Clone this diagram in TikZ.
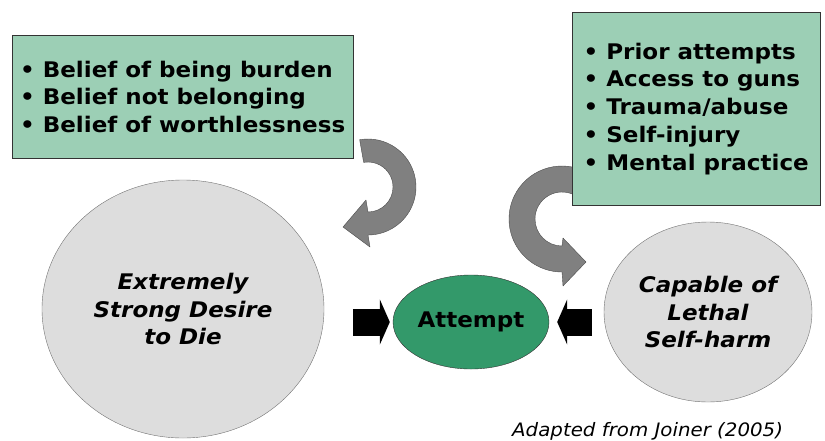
\documentclass[tikz,border=0pt]{standalone}
\usepackage{fontspec}
\setmainfont{DejaVu Sans}[FakeStretch=1.07, ItalicFont=DejaVu Sans Oblique, BoldFont=DejaVu Sans Bold, BoldItalicFont=DejaVu Sans Bold Oblique]
\usepackage{xcolor}
\usepackage{tikz}
\usetikzlibrary{positioning,calc,shapes.geometric,arrows.meta}
\definecolor{boxgreen}{HTML}{9CCFB5}
\definecolor{attemptgreen}{HTML}{33996A}
\definecolor{circlegray}{HTML}{DDDDDD}
\definecolor{curvegray}{HTML}{808080}
\tikzset{
    factbox/.style={draw=black!80, fill=boxgreen, anchor=north west, align=left, inner sep=0pt, font=\bfseries\fontsize{21.5}{27.7}\selectfont},
    bignode/.style={ellipse, draw=black!55, fill=circlegray, align=center, inner sep=0pt, font=\bfseries\itshape\fontsize{21.5}{27.7}\selectfont},
    curvearrow/.style={draw=black!70, fill=curvegray, line join=round}
}

\begin{document}
\begin{tikzpicture}[
        x=1pt, y=-1pt,
        attempt/.style={ellipse, draw=black!80, fill=attemptgreen, inner sep=0pt, minimum width=156pt, minimum height=94pt, font=\bfseries\fontsize{21.5}{24}\selectfont},
        blockarrow/.style={line width=27pt, -{Triangle[length=10pt, width=45pt]}}
    ]
    \useasboundingbox (0,0) rectangle (825,440);
    % --- curved arrows ---
    \filldraw[curvearrow] ([shift={(-100:48)}]368,187) arc[start angle=-100, end angle=90, radius=48]
        -- (370,247) -- (343,227) -- (366,200) -- (368,212)
        arc[start angle=90, end angle=-100, radius=25] -- cycle;
    \filldraw[curvearrow] ([shift={(-65:53)}]562,219) arc[start angle=-65, end angle=-270, radius=53]
        -- (563,286) -- (586,262) -- (563,238) -- (562,246)
        arc[start angle=-270, end angle=-65, radius=27] -- cycle;
    % --- boxes ---
    \node[factbox, minimum width=341pt, minimum height=123pt] (beliefs) at (12,35)
        {\textbullet\ Belief of being burden\\ \textbullet\ Belief not belonging\\ \textbullet\ Belief of worthlessness};
    \node[factbox, minimum width=248pt, minimum height=193pt] (factors) at (572,12)
        {\textbullet\ Prior attempts\\ \textbullet\ Access to guns\\ \textbullet\ Trauma/abuse\\ \textbullet\ Self-injury\\ \textbullet\ Mental practice};
    % --- ellipses ---
    \node[bignode, minimum width=282pt, minimum height=258pt] (desire) at (183,309) {Extremely\\Strong Desire\\to Die};
    \node[bignode, minimum width=208pt, minimum height=180pt] (capable) at (708,312) {Capable of\\Lethal\\Self-harm};
    \node[attempt] (attempt) at (471,322) {Attempt};
    % --- block arrows ---
    \coordinate (lstart) at ([xshift=-40pt]attempt.west);
    \coordinate (rstart) at ([xshift=43pt]attempt.east);
    \draw[blockarrow] (lstart) -- ([xshift=-3pt]attempt.west);
    \draw[blockarrow] (rstart) -- ([xshift=8pt]attempt.east);
    % --- source ---
    \node[anchor=base west, inner sep=0pt, font=\itshape\fontsize{18.5}{22}\selectfont] (source) at (512,436) {Adapted from Joiner (2005)};
\end{tikzpicture}
\end{document}
